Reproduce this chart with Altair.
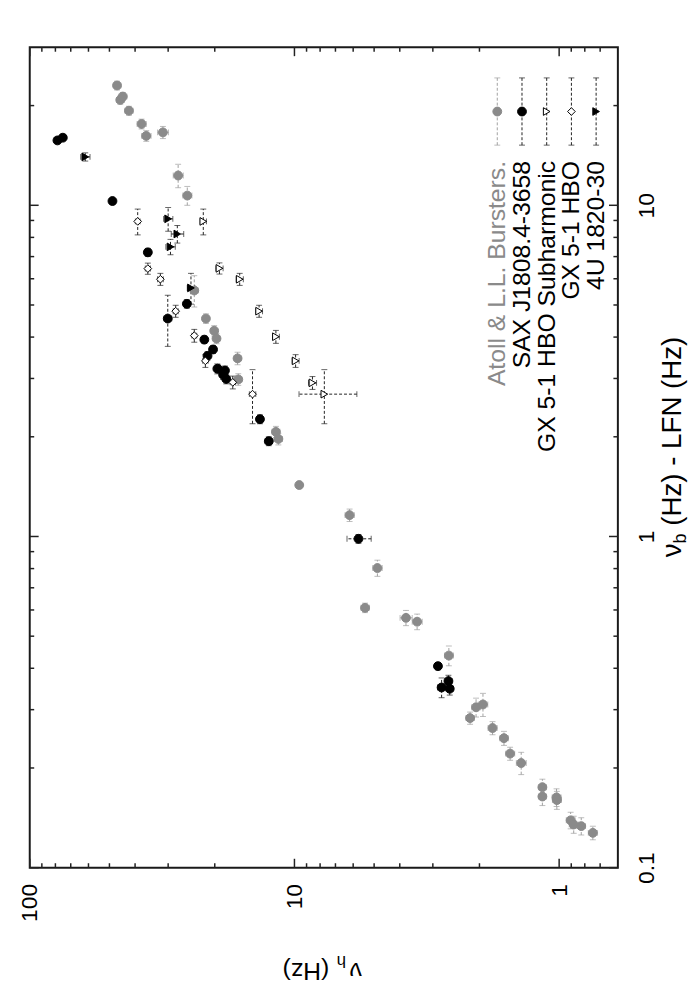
import altair as alt
import pandas as pd

FONT = "Liberation Sans"

# ---- data (nu_h in Hz, nu_b - LFN in Hz, and their errors) ----
series_names = ["Atoll & L.L. Bursters.", "SAX J1808.4-3658",
                "GX 5-1 HBO Subharmonic", "GX 5-1 HBO", "4U 1820-30"]

atoll_nuh = [46.8, 45.5, 44.5, 42.2, 37.8, 36.3, 31.4, 27.5, 25.4, 23.9, 21.6, 20.1, 19.7, 16.4,
             19.6, 16.3, 11.75, 11.5, 9.59, 6.19, 4.86, 5.41, 3.79, 3.44, 2.61, 2.06, 1.94, 2.17,
             1.785, 1.616, 1.532, 1.391, 1.157, 1.157, 1.023, 1.02, 0.905, 0.881, 0.825, 0.746]
atoll_nub = [23.0, 20.8, 21.3, 19.3, 17.6, 16.2, 16.6, 12.3, 10.7, 5.53, 4.55, 4.18, 3.96, 3.45,
             3.21, 2.98, 2.07, 1.97, 1.43, 1.16, 0.803, 0.609, 0.568, 0.553, 0.437, 0.305, 0.311, 0.283,
             0.264, 0.246, 0.221, 0.207, 0.175, 0.164, 0.163, 0.160, 0.139, 0.135, 0.1335, 0.1274]
atoll_eh = [1.5, 1.5, 1.5, 1.5, 1.5, 1.5, 1.5, 1.2, 1.0, 0.8, 0.6, 0.6, 0.6, 0.5,
            0.6, 0.5, 0.4, 0.4, 0.1, 0.25, 0.2, 0.2, 0.2, 0.15, 0.1, 0.08, 0.08, 0.08,
            0.07, 0.06, 0.06, 0.06, 0.04, 0.04, 0.04, 0.04, 0.035, 0.035, 0.03, 0.03]
atoll_eb = [0.7, 0.6, 0.6, 0.6, 0.6, 0.6, 0.7, 1.0, 0.7, 0.6, 0.15, 0.15, 0.14, 0.15,
            0.12, 0.12, 0.08, 0.08, 0.02, 0.05, 0.045, 0.02, 0.03, 0.03, 0.03, 0.02, 0.025, 0.012,
            0.012, 0.012, 0.01, 0.016, 0.01, 0.01, 0.01, 0.01, 0.008, 0.008, 0.008, 0.006]

sax_nuh = [78.6, 75.0, 48.7, 35.8, 25.5, 30.1, 21.9, 20.3, 21.3, 19.5, 18.3, 18.6, 18.1, 13.5,
           12.5, 5.73, 2.87, 2.62, 2.78, 2.59]
sax_nub = [15.7, 16.0, 10.3, 7.21, 5.04, 4.55, 3.93, 3.67, 3.51, 3.21, 3.17, 3.08, 2.99, 2.26,
           1.94, 0.984, 0.406, 0.366, 0.350, 0.347]
sax_eh = [1.0, 1.0, 1.0, 1.0, 0.7, 1.0, 0.5, 0.5, 0.5, 0.5, 0.5, 0.5, 0.5, 0.4,
          0.4, 0.6, 0.08, 0.08, 0.1, 0.08]
sax_eb = [0.3, 0.3, 0.2, 0.2, 0.15, 0.8, 0.1, 0.1, 0.1, 0.1, 0.1, 0.1, 0.1, 0.07,
          0.06, 0.03, 0.01, 0.015, 0.024, 0.015]

sub_nuh = [22.1, 19.2, 16.1, 13.6, 11.75, 9.9, 8.55, 7.71]
sub_nub = [8.94, 6.45, 5.98, 4.79, 4.01, 3.39, 2.91, 2.69]
sub_eh = [0.6, 0.6, 0.5, 0.4, 0.35, 0.3, 0.3, 1.9]
sub_eb = [0.8, 0.25, 0.25, 0.2, 0.18, 0.15, 0.13, 0.5]

hbo_nuh = [39.1, 35.8, 32.1, 28.1, 23.9, 21.7, 17.1, 14.4]
hbo_nub = [8.94, 6.44, 5.98, 4.79, 4.04, 3.39, 2.92, 2.69]
hbo_eh = [0.8, 0.8, 0.8, 0.6, 0.5, 0.5, 0.4, 0.4]
hbo_eb = [0.8, 0.25, 0.25, 0.2, 0.18, 0.15, 0.13, 0.5]

u1820_nuh = [61.7, 30.0, 27.7, 29.4, 24.6]
u1820_nub = [14.0, 9.10, 8.19, 7.49, 5.63]
u1820_eh = [2.5, 1.2, 1.5, 1.2, 0.8]
u1820_eb = [0.4, 0.75, 0.5, 0.4, 0.6]

# axis ticks / labels
x_major = [1, 10, 100]
x_minor = [0.7, 0.8, 0.9, 2, 3, 4, 5, 6, 7, 8, 9, 20, 30, 40, 50, 60, 70, 80, 90]
y_major = [0.1, 1, 10]
y_minor = [0.2, 0.3, 0.4, 0.5, 0.6, 0.7, 0.8, 0.9, 2, 3, 4, 5, 6, 7, 8, 9, 20]

# ---- styles ----
GRAY = "#8a8a8a"
GRAY_ERR = "#a0a0a0"
BLACK = "#000000"
styles = {
    series_names[0]: dict(shape="circle", fill=GRAY, stroke=GRAY, ecol=GRAY_ERR, size=80),
    series_names[1]: dict(shape="circle", fill=BLACK, stroke=BLACK, ecol="#222222", size=80),
    series_names[2]: dict(shape="triangle-right", fill="white", stroke=BLACK, ecol="#222222", size=60),
    series_names[3]: dict(shape="diamond", fill="white", stroke=BLACK, ecol="#222222", size=60),
    series_names[4]: dict(shape="triangle-right", fill=BLACK, stroke=BLACK, ecol="#222222", size=60),
}

all_series = [
    (series_names[0], atoll_nuh, atoll_nub, atoll_eh, atoll_eb),
    (series_names[1], sax_nuh, sax_nub, sax_eh, sax_eb),
    (series_names[2], sub_nuh, sub_nub, sub_eh, sub_eb),
    (series_names[3], hbo_nuh, hbo_nub, hbo_eh, hbo_eb),
    (series_names[4], u1820_nuh, u1820_nub, u1820_eh, u1820_eb),
]
rows = []
for name, nh, nb, eh, eb in all_series:
    st = styles[name]
    for a, b, c, d in zip(nh, nb, eh, eb):
        rows.append(dict(series=name, nuh=a, nub=b, h_lo=a - c, h_hi=a + c,
                         b_lo=b - d, b_hi=b + d, shape=st["shape"], fill=st["fill"],
                         stroke=st["stroke"], ecol=st["ecol"], size=st["size"]))
df = pd.DataFrame(rows)

XS = alt.Scale(type="log", domain=[0.6, 100], reverse=True, nice=False)
YS = alt.Scale(type="log", domain=[0.1, 30], nice=False)

XA = alt.Axis(values=x_major, labelExpr="format(datum.value, '~g')", orient="bottom",
              ticks=False, domain=False, grid=False, labelAngle=270, labelAlign="right",
              labelBaseline="middle", labelPadding=16, labelFont=FONT, labelFontSize=23,
              labelColor="black", labelFlush=False, labelOverlap=False, labelBound=False, title=None)
YA = alt.Axis(values=y_major, labelExpr="format(datum.value, '~g')", orient="right",
              ticks=False, domain=False, grid=False, labelAngle=270, labelAlign="center",
              labelBaseline="middle", labelPadding=29, labelFont=FONT, labelFontSize=23,
              labelColor="black", labelFlush=False, labelOverlap=False, labelBound=False, title=None)

base = alt.Chart(df)
DASH = [3, 2]

hbar = base.mark_rule(strokeDash=DASH, strokeWidth=1).encode(
    x=alt.X("h_lo:Q", scale=XS, axis=XA), x2="h_hi:Q",
    y=alt.Y("nub:Q", scale=YS, axis=YA),
    color=alt.Color("ecol:N", scale=None))
vbar = base.mark_rule(strokeDash=DASH, strokeWidth=1).encode(
    x=alt.X("nuh:Q", scale=XS, axis=XA),
    y=alt.Y("b_lo:Q", scale=YS, axis=YA), y2="b_hi:Q",
    color=alt.Color("ecol:N", scale=None))
caps = []
for f in ["h_lo", "h_hi"]:
    caps.append(base.mark_tick(orient="vertical", size=6, thickness=1).encode(
        x=alt.X(f"{f}:Q", scale=XS, axis=XA), y=alt.Y("nub:Q", scale=YS, axis=YA),
        color=alt.Color("ecol:N", scale=None)))
for f in ["b_lo", "b_hi"]:
    caps.append(base.mark_tick(orient="horizontal", size=6, thickness=1).encode(
        x=alt.X("nuh:Q", scale=XS, axis=XA), y=alt.Y(f"{f}:Q", scale=YS, axis=YA),
        color=alt.Color("ecol:N", scale=None)))

points = base.mark_point(filled=True, opacity=1, strokeWidth=1).encode(
    x=alt.X("nuh:Q", scale=XS, axis=XA),
    y=alt.Y("nub:Q", scale=YS, axis=YA),
    shape=alt.Shape("shape:N", scale=None),
    fill=alt.Fill("fill:N", scale=None),
    stroke=alt.Stroke("stroke:N", scale=None),
    size=alt.Size("size:Q", scale=None))

# inward frame ticks
tick_layers = []
for vals, L in [(x_major, 9), (x_minor, 4.5)]:
    tdf = pd.DataFrame({"v": vals})
    tick_layers.append(alt.Chart(tdf).mark_rule(color="#222", strokeWidth=1.5, y2Offset=-L).encode(
        x=alt.X("v:Q", scale=XS, axis=XA),
        y=alt.Y(datum=0.1, scale=YS, axis=YA, type="quantitative"),
        y2=alt.Y2(datum=0.1)))
    tick_layers.append(alt.Chart(tdf).mark_rule(color="#222", strokeWidth=1.5, y2Offset=L).encode(
        x=alt.X("v:Q", scale=XS, axis=XA),
        y=alt.Y(datum=30, scale=YS, axis=YA, type="quantitative"),
        y2=alt.Y2(datum=30)))
for vals, L in [(y_major, 9), (y_minor, 4.5)]:
    tdf = pd.DataFrame({"v": vals})
    tick_layers.append(alt.Chart(tdf).mark_rule(color="#222", strokeWidth=1.5, x2Offset=L).encode(
        y=alt.Y("v:Q", scale=YS, axis=YA),
        x=alt.X(datum=100, scale=XS, axis=XA, type="quantitative"),
        x2=alt.X2(datum=100)))
    tick_layers.append(alt.Chart(tdf).mark_rule(color="#222", strokeWidth=1.5, x2Offset=-L).encode(
        y=alt.Y("v:Q", scale=YS, axis=YA),
        x=alt.X(datum=0.6, scale=XS, axis=XA, type="quantitative"),
        x2=alt.X2(datum=0.6)))

# legend (rotated, inside plot)
leg_x0, leg_dx = 473, 25
leg = pd.DataFrame({
    "label": series_names,
    "lx": [leg_x0 + leg_dx * i for i in range(len(series_names))],
    "tcolor": [GRAY, BLACK, BLACK, BLACK, BLACK],
    "ecol": [styles[n]["ecol"] for n in series_names],
    "shape": [styles[n]["shape"] for n in series_names],
    "fill": [styles[n]["fill"] for n in series_names],
    "stroke": [styles[n]["stroke"] for n in series_names],
    "size": [styles[n]["size"] for n in series_names],
})
lbase = alt.Chart(leg)
leg_text = lbase.mark_text(angle=270, align="right", baseline="middle", fontSize=25, font=FONT).encode(
    x=alt.X("lx:Q", scale=None), y=alt.value(115), text="label:N",
    color=alt.Color("tcolor:N", scale=None))
leg_bar = lbase.mark_rule(strokeDash=DASH, strokeWidth=1).encode(
    x=alt.X("lx:Q", scale=None), y=alt.value(31), y2=alt.value(99),
    color=alt.Color("ecol:N", scale=None))
leg_caps = [lbase.mark_tick(orient="horizontal", size=6, thickness=1).encode(
    x=alt.X("lx:Q", scale=None), y=alt.value(yv), color=alt.Color("ecol:N", scale=None))
    for yv in (31, 99)]
leg_sym = lbase.mark_point(filled=True, opacity=1, strokeWidth=1).encode(
    x=alt.X("lx:Q", scale=None), y=alt.value(65),
    shape=alt.Shape("shape:N", scale=None), fill=alt.Fill("fill:N", scale=None),
    stroke=alt.Stroke("stroke:N", scale=None), size=alt.Size("size:Q", scale=None))

# axis titles (rotated like the rest of the figure, with subscripts)
titles = pd.DataFrame({
    "t": ["ν", "b", "(Hz) - LFN (Hz)", "ν", "h", "(Hz)"],
    "px": [659, 664, 659, 336, 320, 303],
    "py": [516, 502, 484, 926, 919, 926],
    "fs": [28, 18, 28, 25, 17, 25],
    "ang": [270, 270, 270, 180, 180, 180],
})
title_text = alt.Chart(titles).mark_text(align="left", baseline="alphabetic", font=FONT, color="black").encode(
    x=alt.X("px:Q", scale=None), y=alt.Y("py:Q", scale=None), text="t:N",
    size=alt.Size("fs:Q", scale=None), angle=alt.Angle("ang:Q", scale=None))

chart = alt.layer(
    hbar, vbar, *caps, points, *tick_layers, leg_bar, *leg_caps, leg_sym, leg_text, title_text
).properties(
    width=595, height=830,
    autosize=alt.AutoSizeParams(type="none"),
    padding={"left": 22, "top": 34, "right": 75, "bottom": 116},
).configure_view(stroke="#1a1a1a", strokeWidth=2)

chart.save("out.html", embed_options={"renderer": "svg", "actions": False})
